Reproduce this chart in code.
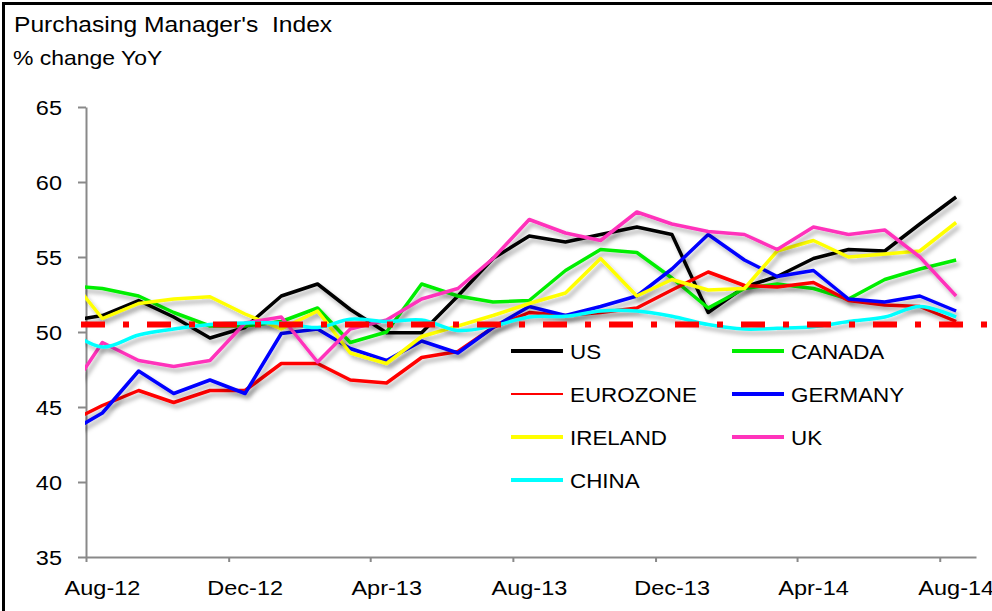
<!DOCTYPE html>
<html>
<head>
<meta charset="utf-8">
<script src="https://cdn.jsdelivr.net/npm/d3@7"></script>
<style>
  body { margin: 0; background: #fff; }
  svg { display: block; }
  text { font-family: "Liberation Sans", Arial, sans-serif; fill: #000; }
</style>
</head>
<body>
<div id="chart"></div>
<script>
// monthly readings, first value is Jul-12 (it sits left of the axis and gets clipped)
var firstMonth = new Date(2012, 6, 15)
var seriesNames = ['US', 'CANADA', 'EUROZONE', 'GERMANY', 'IRELAND', 'UK', 'CHINA']
var seriesColors = ['#000000', '#00ee00', '#ff0000', '#0000ff', '#ffff00', '#ff33bb', '#00ffff']

var us = [50.7, 51.1, 52.1, 51.0, 49.6, 50.3, 52.4, 53.2, 51.5, 49.95, 49.95, 52.4, 54.9,
  56.4, 56.0, 56.5, 57.0, 56.5, 51.3, 53.0, 53.7, 54.9, 55.5, 55.4, 57.2, 59.0]
var canada = [53.1, 52.9, 52.4, 51.3, 50.4, 50.4, 50.7, 51.6, 49.3, 50.0, 53.2, 52.4, 52.0,
  52.1, 54.1, 55.5, 55.3, 53.6, 51.6, 52.9, 53.2, 52.9, 52.2, 53.5, 54.2, 54.8]
var eurozone = [43.9, 45.1, 46.1, 45.3, 46.1, 46.1, 47.9, 47.9, 46.8, 46.6, 48.3, 48.7, 50.3,
  51.3, 51.1, 51.3, 51.6, 52.8, 54.0, 53.1, 53.0, 53.3, 52.1, 51.8, 51.7, 50.7]
var germany = [43.2, 44.6, 47.4, 45.9, 46.8, 45.9, 49.9, 50.2, 48.9, 48.1, 49.4, 48.6, 50.3,
  51.7, 51.1, 51.7, 52.4, 54.2, 56.5, 54.8, 53.7, 54.1, 52.2, 52.0, 52.4, 51.4]
var ireland = [53.9, 50.9, 51.9, 52.2, 52.35, 51.2, 50.2, 51.4, 48.6, 47.9, 49.7, 50.4, 51.1,
  51.9, 52.6, 54.9, 52.4, 53.5, 52.8, 52.9, 55.4, 56.1, 55.0, 55.2, 55.4, 57.3]
var uk = [45.7, 49.3, 48.1, 47.7, 48.1, 50.6, 51.0, 48.0, 50.2, 50.8, 52.2, 52.9, 54.9,
  57.5, 56.6, 56.1, 58.0, 57.2, 56.7, 56.5, 55.5, 57.0, 56.5, 56.8, 55.0, 52.4]
var china = [50.2, 49.0, 49.8, 50.2, 50.5, 50.6, 50.6, 50.3, 50.85, 50.7, 50.8, 50.1, 50.4,
  51.0, 51.05, 51.4, 51.4, 51.05, 50.5, 50.2, 50.25, 50.35, 50.7, 51.0, 51.7, 51.0]

var yTicks = [35, 40, 45, 50, 55, 60, 65]
var xTicks = ['2012-08-01', '2012-12-01', '2013-04-01', '2013-08-01', '2013-12-01', '2014-04-01', '2014-08-01']
var refLevel = 50.5

var allValues = [us, canada, eurozone, germany, ireland, uk, china]

var width = 992
var height = 611
var stretch = 1.12 // the source picture is a bit wide

var svg = d3
  .select('#chart')
  .append('svg')
  .attr('width', width)
  .attr('height', height)

var defs = svg.append('defs')
defs
  .append('clipPath')
  .attr('id', 'plot-clip')
  .append('rect')
  .attr('x', 85)
  .attr('y', 0)
  .attr('width', 900)
  .attr('height', 600)

defs
  .append('filter')
  .attr('id', 'shadow')
  .attr('x', '-5%')
  .attr('y', '-20%')
  .attr('width', '115%')
  .attr('height', '150%')
  .append('feDropShadow')
  .attr('dx', 3)
  .attr('dy', 4)
  .attr('stdDeviation', 2)
  .attr('flood-color', '#000')
  .attr('flood-opacity', 0.3)

// frame (only top and left show in the crop)
svg
  .append('path')
  .attr('d', 'M3.5,' + height + 'V3.5H' + width)
  .attr('fill', 'none')
  .attr('stroke', '#000')
  .attr('stroke-width', 3)

var parseDay = d3.timeParse('%Y-%m-%d')

var xPositionScale = d3
  .scaleTime()
  .domain([new Date(2012, 7, 1), new Date(2014, 8, 1)])
  .range([86, 976])

var yPositionScale = d3
  .scaleLinear()
  .domain([35, 65])
  .range([557, 107])

function monthDate(i) {
  return new Date(firstMonth.getFullYear(), firstMonth.getMonth() + i, 15)
}

function label(sel, x, y, txt, size, anchor) {
  return sel
    .append('text')
    .attr('transform', 'translate(' + x + ',' + y + ') scale(' + stretch + ',1)')
    .attr('font-size', size)
    .attr('text-anchor', anchor || 'start')
    .style('white-space', 'pre')
    .text(txt)
}

label(svg, 14, 32, "Purchasing Manager's  Index", 22)
label(svg, 13, 65, '% change YoY', 20.5)

// axes
var yAxis = d3
  .axisLeft(yPositionScale)
  .tickValues(yTicks)
  .tickSize(8)
  .tickSizeOuter(0)

var yG = svg
  .append('g')
  .attr('transform', 'translate(86,0)')
  .call(yAxis)

yG.selectAll('path, line').attr('stroke', '#898989').attr('stroke-width', 2)
yG
  .selectAll('text')
  .attr('font-size', 21)
  .attr('font-family', '"Liberation Sans", Arial, sans-serif')
  .attr('fill', '#000')
  .attr('x', -24 / stretch)
  .attr('dy', '0.35em')
  .attr('transform', 'scale(' + stretch + ',1)')

var xAxis = d3
  .axisBottom(xPositionScale)
  .tickValues(xTicks.map(parseDay))
  .tickFormat(d3.timeFormat('%b-%y'))
  .tickSize(5)
  .tickSizeOuter(0)

var xG = svg
  .append('g')
  .attr('transform', 'translate(0,557)')
  .call(xAxis)

xG.selectAll('path, line').attr('stroke', '#898989').attr('stroke-width', 2)
xG
  .selectAll('text')
  .attr('font-size', 21)
  .attr('font-family', '"Liberation Sans", Arial, sans-serif')
  .attr('fill', '#000')
  .attr('x', 16 / stretch)
  .attr('y', 38)
  .attr('dy', null)
  .attr('transform', 'scale(' + stretch + ',1)')

// lines
var plot = svg.append('g').attr('clip-path', 'url(#plot-clip)')

allValues.forEach(function(values, s) {
  var line = d3
    .line()
    .x((d, i) => xPositionScale(monthDate(i)))
    .y(d => yPositionScale(d))

  // the china series is a smoothed line in the original
  if (seriesNames[s] === 'CHINA') line.curve(d3.curveCatmullRom.alpha(0.5))

  plot
    .append('path')
    .datum(values)
    .attr('d', line)
    .attr('fill', 'none')
    .attr('stroke', seriesColors[s])
    .attr('stroke-width', 3.5)
    .attr('stroke-linejoin', 'round')
    .attr('filter', 'url(#shadow)')
})

// 50.5 reference line, dash-dot
svg
  .append('line')
  .attr('x1', 81)
  .attr('x2', width)
  .attr('y1', yPositionScale(refLevel))
  .attr('y2', yPositionScale(refLevel))
  .attr('stroke', '#ff0000')
  .attr('stroke-width', 6)
  .attr('stroke-dasharray', '24,18,6,18')

// legend, two columns
var legend = svg.append('g')
seriesNames.forEach(function(name, i) {
  var col = i % 2
  var row = Math.floor(i / 2)
  var lx = 511 + col * 221
  var ly = 351 + row * 43
  legend
    .append('line')
    .attr('x1', lx)
    .attr('x2', lx + 52)
    .attr('y1', ly)
    .attr('y2', ly)
    .attr('stroke', seriesColors[i])
    .attr('stroke-width', name === 'EUROZONE' ? 2 : 4)
  label(legend, lx + 59, ly + 8, name, 20)
})
</script>
</body>
</html>
